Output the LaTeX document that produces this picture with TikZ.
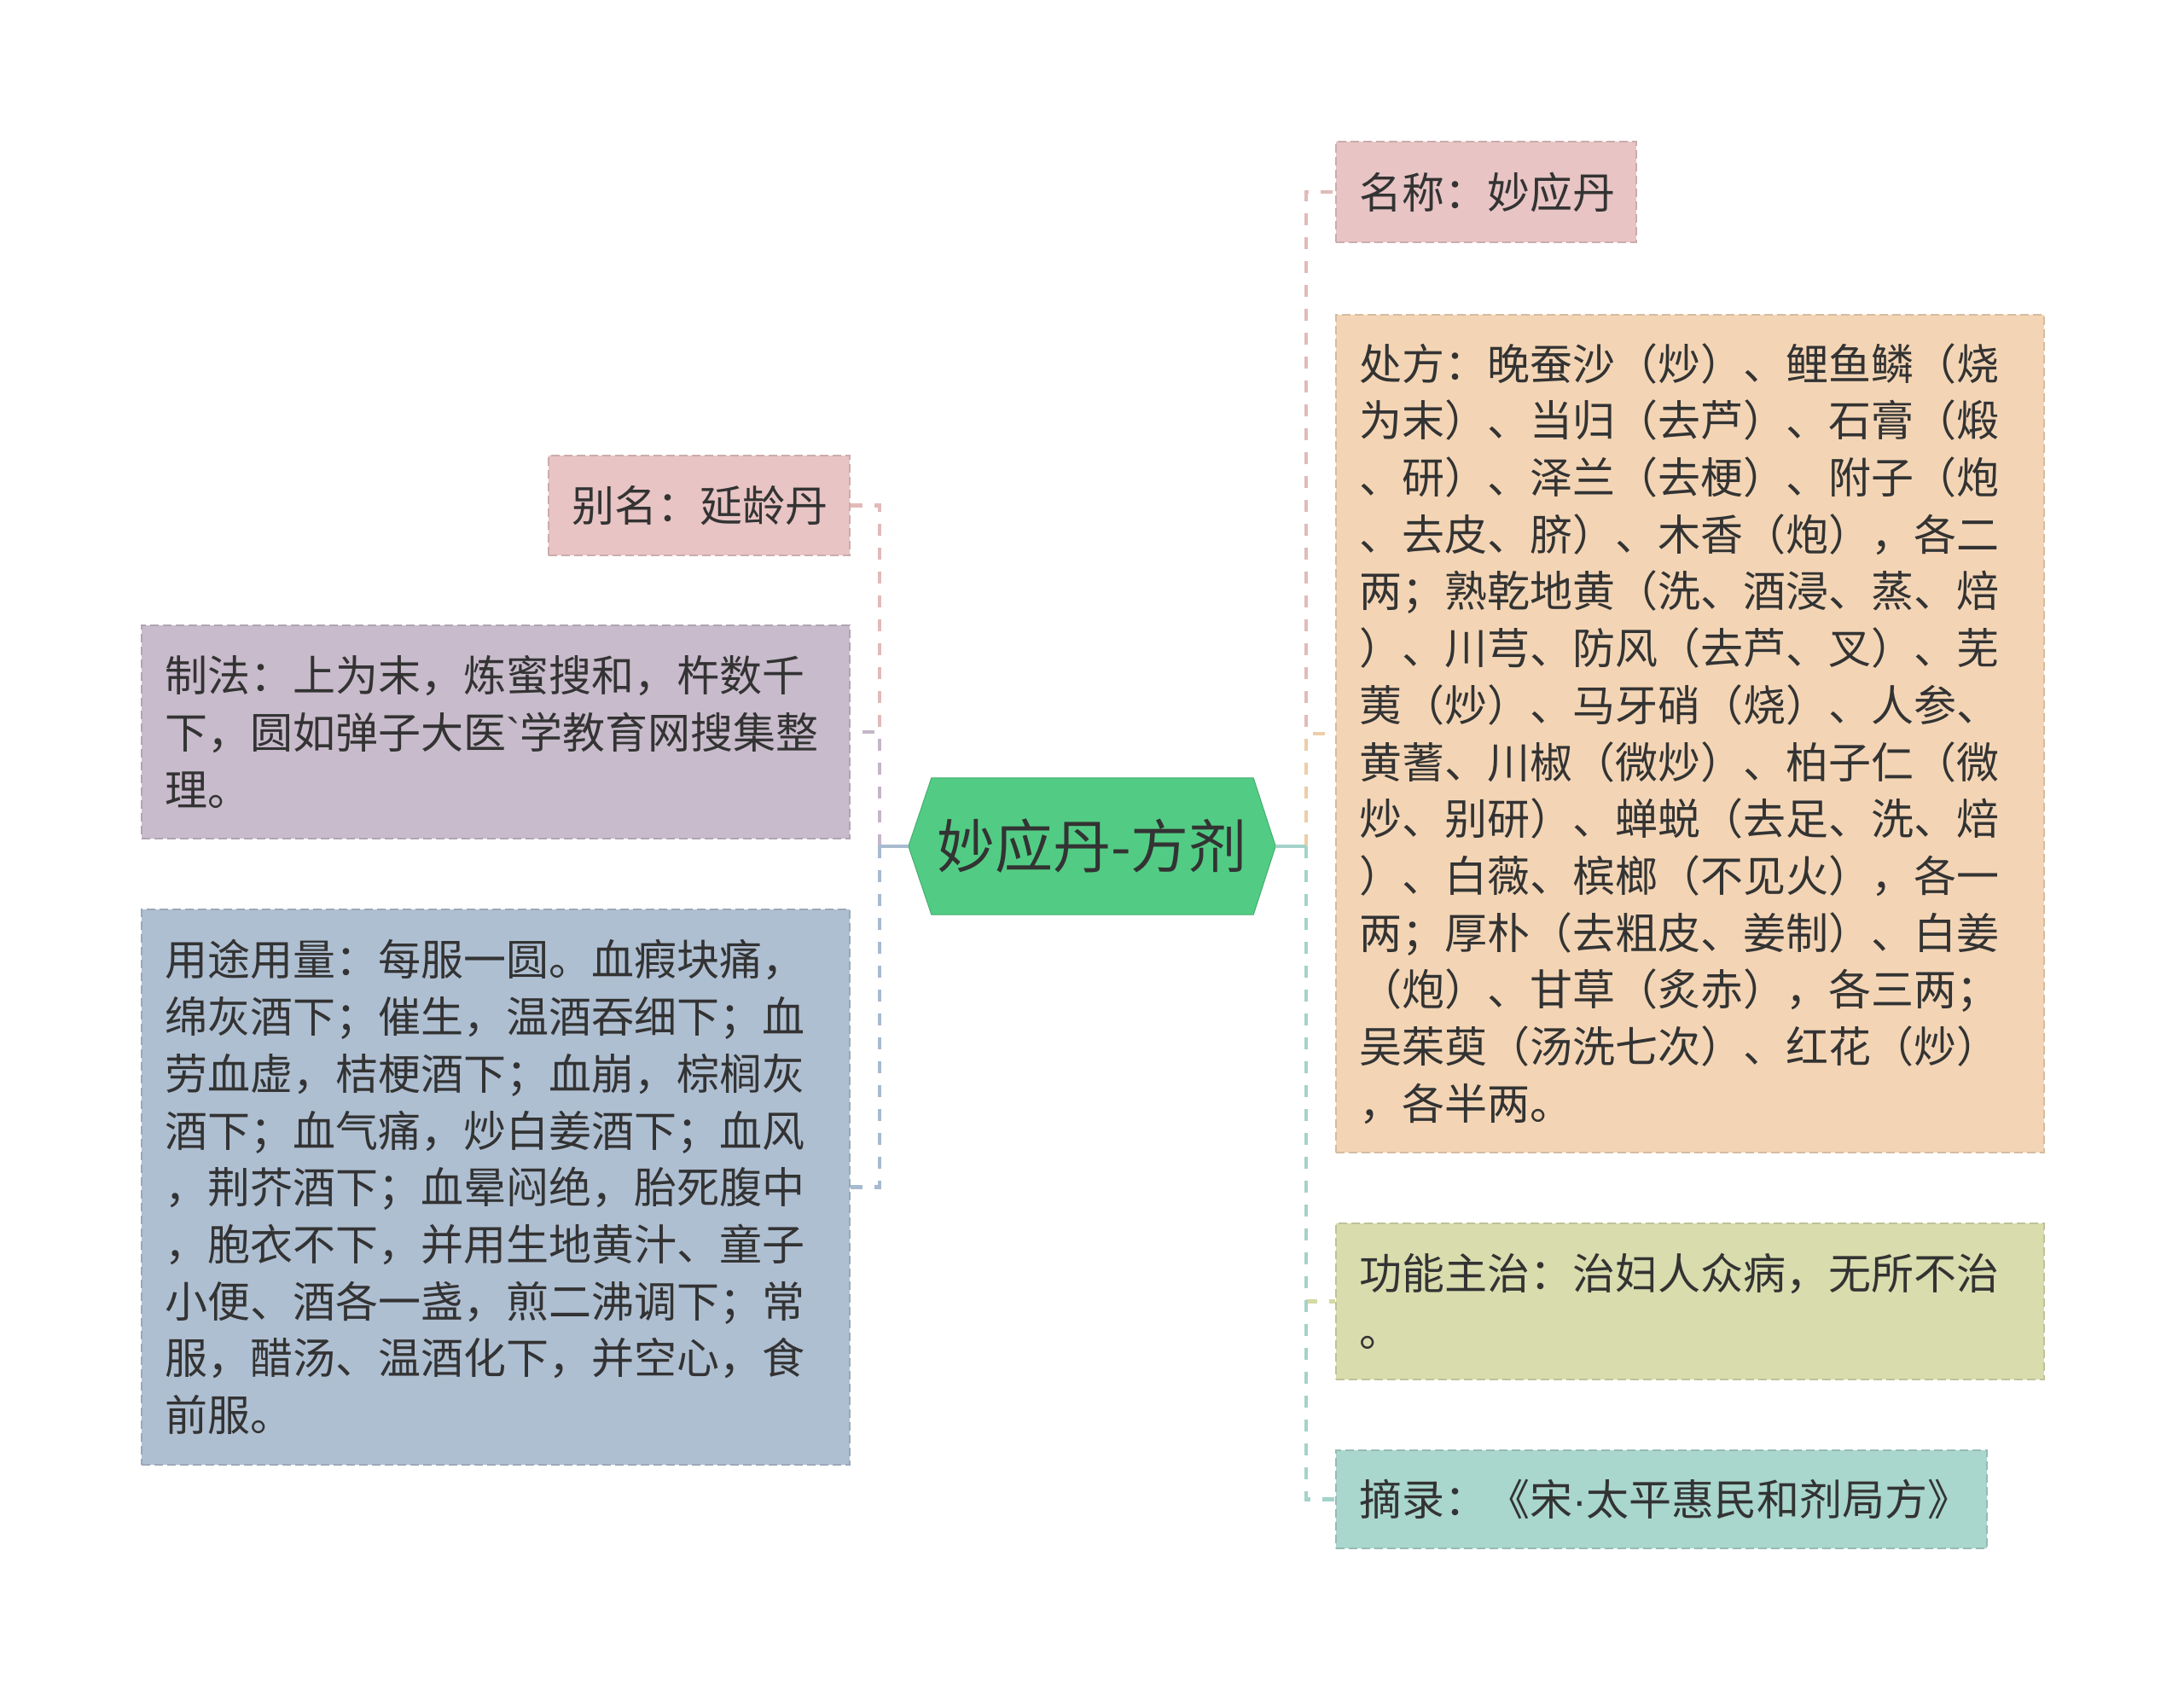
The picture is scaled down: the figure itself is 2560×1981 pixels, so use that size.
\documentclass[tikz,border=0pt]{standalone}
\usepackage{fontspec}
\newfontfamily\cjk{Noto Sans CJK SC}
\newfontfamily\lat{Liberation Sans}
\usetikzlibrary{calc,backgrounds}
\definecolor{txt}{HTML}{333333}
\definecolor{fpink}{HTML}{E8C4C4}
\definecolor{fpeach}{HTML}{F3D5B5}
\definecolor{fyg}{HTML}{D9DDAE}
\definecolor{fteal}{HTML}{A9D6CD}
\definecolor{flav}{HTML}{C8BBCB}
\definecolor{fblue}{HTML}{AFBFD2}
\definecolor{fgreen}{HTML}{52CC84}
\definecolor{cpink}{HTML}{E2BABA}
\definecolor{cpeach}{HTML}{EFCCA8}
\definecolor{cyg}{HTML}{D4D9A6}
\definecolor{cteal}{HTML}{A3D3CA}
\definecolor{clav}{HTML}{C4B6C8}
\definecolor{cblue}{HTML}{A8BACF}
\begin{document}
\begin{tikzpicture}[x=1pt,y=-1pt,
  leaf/.style={anchor=north west, inner xsep=27pt, inner ysep=0pt, align=left,
    font=\cjk\fontsize{50}{66.7}\selectfont, text=txt,
    line width=2pt, dash pattern=on 10pt off 5pt},
  conn/.style={line width=4.5pt, dash pattern=on 14pt off 14pt},
  stub/.style={line width=4.5pt}]
\useasboundingbox (0,0) rectangle (2560,1981);

% root
\node[minimum width=430pt, minimum height=160pt, inner sep=0pt,
  font=\cjk\fontsize{68}{72}\selectfont, text=txt] (root) at (1280,992) {妙应丹-方剂};
\begin{scope}[on background layer]
\fill[white] (0,0) rectangle (2560,1981);
\fill[fgreen, draw=fgreen!85!black, line width=1pt] (root.west) -- ($(root.north west)+(27,0)$) -- ($(root.north east)+(-26,0)$)
  -- (root.east) -- ($(root.south east)+(-26,0)$) -- ($(root.south west)+(27,0)$) -- cycle;
\end{scope}

% left leaves
\node[leaf, fill=fpink, draw=fpink!88!black, text width=299pt, minimum height=117pt] (bieming) at (642,533) {别名：延龄丹};
\node[leaf, fill=flav, draw=flav!88!black, text width=776pt, minimum height=250pt] (zhifa) at (165,732)
  {制法：上为末，炼蜜搜和，杵数千\\下，圆如弹子大医{\lat\symbol{96}}学教育网搜集整\\理。};
\node[leaf, fill=fblue, draw=fblue!88!black, text width=776pt, minimum height=651pt] (yongtu) at (165,1065)
  {用途用量：每服一圆。血瘕块痛，\\绵灰酒下；催生，温酒吞细下；血\\劳血虚，桔梗酒下；血崩，棕榈灰\\酒下；血气痛，炒白姜酒下；血风\\，荆芥酒下；血晕闷绝，胎死腹中\\，胞衣不下，并用生地黄汁、童子\\小便、酒各一盏，煎二沸调下；常\\服，醋汤、温酒化下，并空心，食\\前服。};

% right leaves
\node[leaf, fill=fpink, draw=fpink!88!black, text width=298pt, minimum height=118pt] (mingcheng) at (1565,165) {名称：妙应丹};
\node[leaf, fill=fpeach, draw=fpeach!88!black, text width=776pt, minimum height=982pt] (chufang) at (1565,368)
  {处方：晚蚕沙（炒）、鲤鱼鳞（烧\\为末）、当归（去芦）、石膏（煅\\、研）、泽兰（去梗）、附子（炮\\、去皮、脐）、木香（炮），各二\\两；熟乾地黄（洗、酒浸、蒸、焙\\）、川芎、防风（去芦、叉）、芜\\荑（炒）、马牙硝（烧）、人参、\\黄蓍、川椒（微炒）、柏子仁（微\\炒、别研）、蝉蜕（去足、洗、焙\\）、白薇、槟榔（不见火），各一\\两；厚朴（去粗皮、姜制）、白姜\\（炮）、甘草（炙赤），各三两；\\吴茱萸（汤洗七次）、红花（炒）\\，各半两。};
\node[leaf, fill=fyg, draw=fyg!88!black, text width=776pt, minimum height=183pt] (gongneng) at (1565,1433)
  {功能主治：治妇人众病，无所不治\\。};
\node[leaf, fill=fteal, draw=fteal!88!black, text width=709pt, minimum height=115pt] (zhailu) at (1565,1699)
  {摘录：《宋{\lat\symbol{"B7}}太平惠民和剂局方》};

% trunks
\coordinate (LT) at (1031,992);
\coordinate (RT) at (1531,992);

\draw[conn, cpink] (LT) |- (bieming.east);
\draw[conn, clav] (LT) |- (zhifa.east);
\draw[conn, cblue] (LT) |- (yongtu.east);
\draw[conn, cpink] (RT) |- (mingcheng.west);
\draw[conn, cpeach] (RT) |- (chufang.west);
\draw[conn, cyg] (RT) |- (gongneng.west);
\draw[conn, cteal] (RT) |- (zhailu.west);

\draw[stub, cblue] (root.west) -- (LT);
\draw[stub, cteal] (root.east) -- (RT);
\end{tikzpicture}
\end{document}
